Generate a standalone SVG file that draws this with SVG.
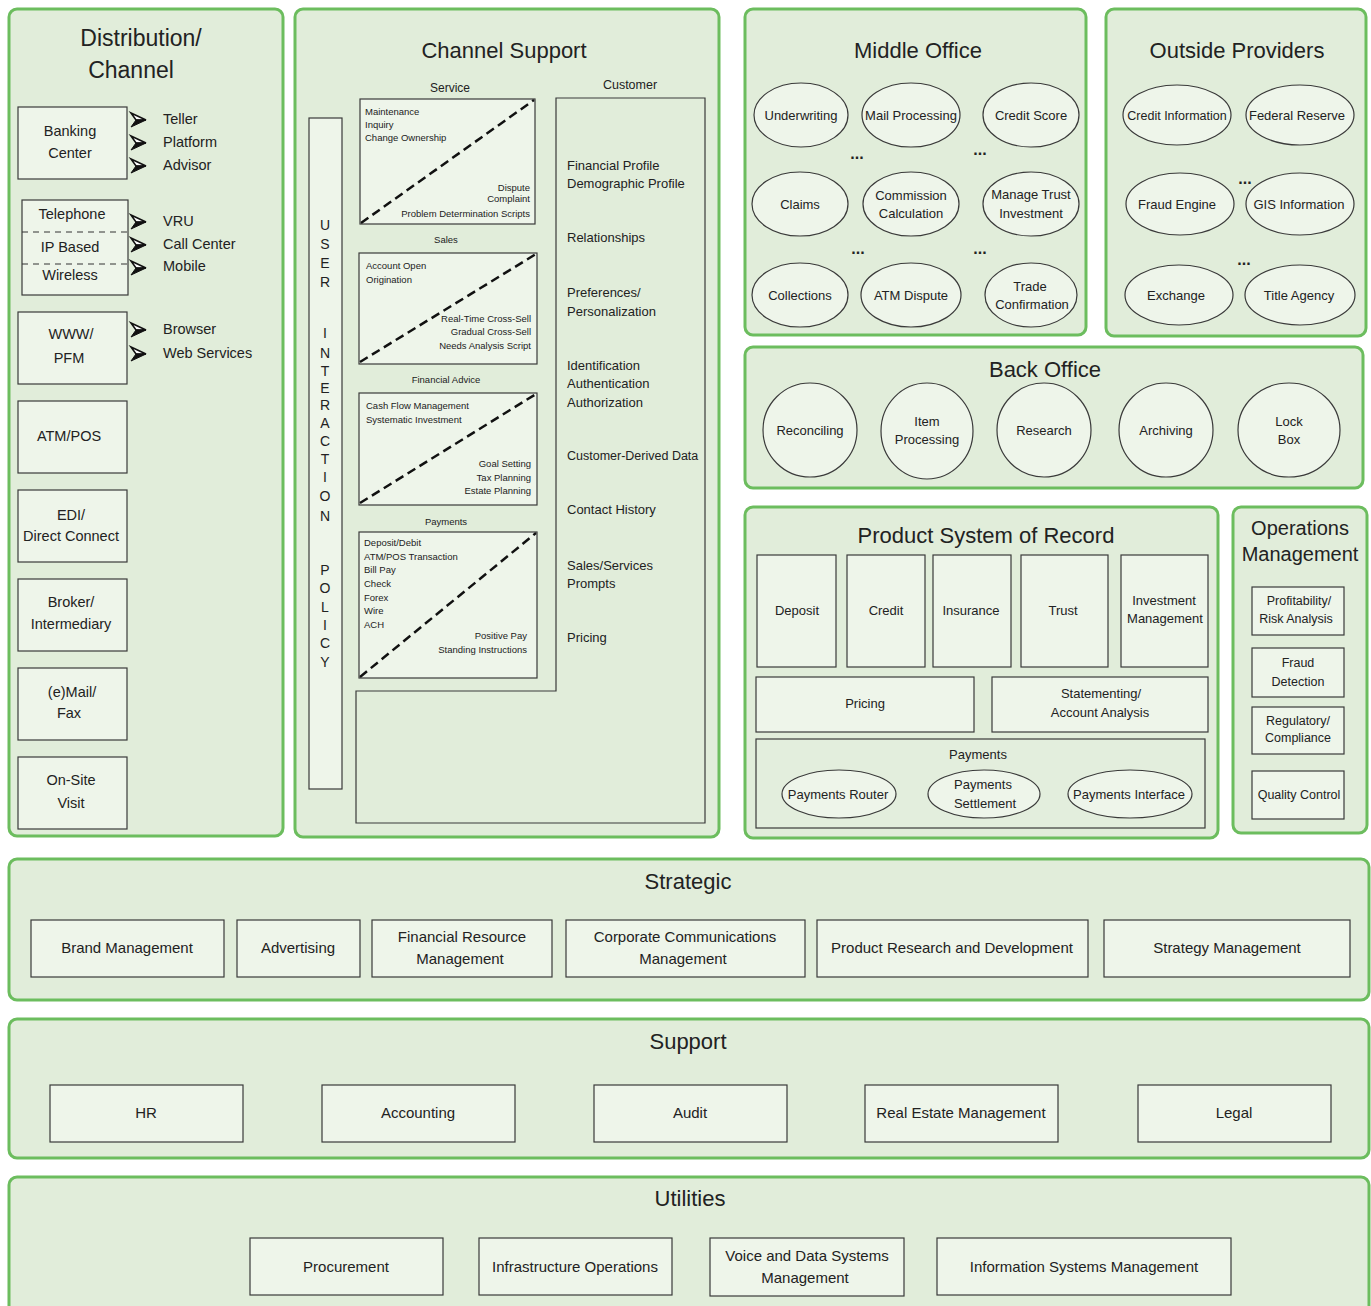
<svg xmlns="http://www.w3.org/2000/svg" width="1371" height="1306" viewBox="0 0 1371 1306">
<defs>
<style>
.panel{fill:#e1edda;stroke:#6cbd5e;stroke-width:3}
.box{fill:#eef5ea;stroke:#3a3a3a;stroke-width:1.2}
.open{fill:none;stroke:#3a3a3a;stroke-width:1.2}
.t{font-family:"Liberation Sans",Arial,sans-serif;fill:#222;text-anchor:middle}
.l{text-anchor:start}
.r{text-anchor:end}
.ttl{font-size:22px}
.f15{font-size:15px}
.f145{font-size:14.5px}
.f13{font-size:13px}
.f125{font-size:12.5px}
.f95{font-size:9.5px}
.v{font-size:14px}
.dots{font-size:16px;font-weight:bold}
.dash{stroke:#111;stroke-width:2.5;stroke-dasharray:9 5;fill:none}
.sep{stroke:#333;stroke-width:1;stroke-dasharray:6 5}
</style>
<symbol id="arr" viewBox="-1 -8 17 16" width="17" height="16" overflow="visible">
<polygon points="0,-7 15,0 5,0" fill="#fff" stroke="#111" stroke-width="1.6" stroke-linejoin="miter"/>
<polygon points="0,7 15,0 5,0" fill="#111" stroke="#111" stroke-width="1"/>
</symbol>
</defs>
<rect width="1371" height="1306" fill="#fff"/>

<g id="distribution">
<rect class="panel" x="9" y="9" width="274" height="827" rx="8"/>
<text class="t" font-size="23" x="141" y="46">Distribution/</text>
<text class="t" font-size="23" x="131" y="78">Channel</text>
<g id="banking-center">
<rect class="box" x="18" y="107" width="109" height="72"/>
<text class="t f145" x="70" y="136">Banking</text>
<text class="t f145" x="70" y="158">Center</text>
</g>
<use href="#arr" x="130" y="112"/><use href="#arr" x="130" y="135"/><use href="#arr" x="130" y="158"/>
<text class="t l f145" x="163" y="124">Teller</text>
<text class="t l f145" x="163" y="147">Platform</text>
<text class="t l f145" x="163" y="170">Advisor</text>
<g id="telephone">
<rect class="box" x="22" y="200" width="106" height="95"/>
<line class="sep" x1="22" y1="232" x2="128" y2="232"/>
<line class="sep" x1="22" y1="264" x2="128" y2="264"/>
<text class="t f145" x="72" y="219">Telephone</text>
<text class="t f145" x="70" y="252">IP Based</text>
<text class="t f145" x="70" y="280">Wireless</text>
</g>
<use href="#arr" x="130" y="214"/><use href="#arr" x="130" y="237"/><use href="#arr" x="130" y="260"/>
<text class="t l f145" x="163" y="226">VRU</text>
<text class="t l f145" x="163" y="249">Call Center</text>
<text class="t l f145" x="163" y="271">Mobile</text>
<g id="www">
<rect class="box" x="18" y="312" width="109" height="72"/>
<text class="t f145" x="71" y="339">WWW/</text>
<text class="t f145" x="69" y="363">PFM</text>
</g>
<use href="#arr" x="130" y="322"/><use href="#arr" x="130" y="346"/>
<text class="t l f145" x="163" y="334">Browser</text>
<text class="t l f145" x="163" y="358">Web Services</text>
<g id="atm-pos">
<rect class="box" x="18" y="401" width="109" height="72"/>
<text class="t f145" x="69" y="441">ATM/POS</text>
</g>
<g id="edi">
<rect class="box" x="18" y="490" width="109" height="72"/>
<text class="t f145" x="71" y="520">EDI/</text>
<text class="t f145" x="71" y="541">Direct Connect</text>
</g>
<g id="broker">
<rect class="box" x="18" y="579" width="109" height="72"/>
<text class="t f145" x="71" y="607">Broker/</text>
<text class="t f145" x="71" y="629">Intermediary</text>
</g>
<g id="mail-fax">
<rect class="box" x="18" y="668" width="109" height="72"/>
<text class="t f145" x="72" y="697">(e)Mail/</text>
<text class="t f145" x="69" y="718">Fax</text>
</g>
<g id="onsite">
<rect class="box" x="18" y="757" width="109" height="72"/>
<text class="t f145" x="71" y="785">On-Site</text>
<text class="t f145" x="71" y="808">Visit</text>
</g>
</g>

<g id="channel-support">
<rect class="panel" x="295" y="9" width="424" height="828" rx="8"/>
<text class="t ttl" x="504" y="58">Channel Support</text>
<g id="user-interaction-policy">
<rect class="box" x="309" y="118" width="33" height="671"/>
<g class="t v">
<text x="325" y="230">U</text><text x="325" y="249">S</text><text x="325" y="268">E</text><text x="325" y="287">R</text>
<text x="325" y="338">I</text><text x="325" y="358">N</text><text x="325" y="376">T</text><text x="325" y="393">E</text><text x="325" y="410">R</text><text x="325" y="428">A</text><text x="325" y="446">C</text><text x="325" y="464">T</text><text x="325" y="482">I</text><text x="325" y="501">O</text><text x="325" y="521">N</text>
<text x="325" y="575">P</text><text x="325" y="593">O</text><text x="325" y="612">L</text><text x="325" y="630">I</text><text x="325" y="648">C</text><text x="325" y="667">Y</text>
</g>
</g>
<g id="service">
<text class="t" font-size="12" x="450" y="92">Service</text>
<rect class="box" x="360" y="99" width="175" height="125"/>
<line class="dash" x1="361" y1="223" x2="534" y2="100"/>
<text class="t l f95" x="365" y="115">Maintenance</text>
<text class="t l f95" x="365" y="128">Inquiry</text>
<text class="t l f95" x="365" y="141">Change Ownership</text>
<text class="t r f95" x="530" y="191">Dispute</text>
<text class="t r f95" x="530" y="202">Complaint</text>
<text class="t r f95" x="530" y="217">Problem Determination Scripts</text>
</g>
<g id="sales">
<text class="t f95" x="446" y="243">Sales</text>
<rect class="box" x="359" y="253" width="178" height="111"/>
<line class="dash" x1="360" y1="362" x2="536" y2="254"/>
<text class="t l f95" x="366" y="269">Account Open</text>
<text class="t l f95" x="366" y="283">Origination</text>
<text class="t r f95" x="531" y="322">Real-Time Cross-Sell</text>
<text class="t r f95" x="531" y="335">Gradual Cross-Sell</text>
<text class="t r f95" x="531" y="349">Needs Analysis Script</text>
</g>
<g id="financial-advice">
<text class="t f95" x="446" y="383">Financial Advice</text>
<rect class="box" x="359" y="393" width="178" height="112"/>
<line class="dash" x1="360" y1="503" x2="536" y2="394"/>
<text class="t l f95" x="366" y="409">Cash Flow Management</text>
<text class="t l f95" x="366" y="423">Systematic Investment</text>
<text class="t r f95" x="531" y="467">Goal Setting</text>
<text class="t r f95" x="531" y="481">Tax Planning</text>
<text class="t r f95" x="531" y="494">Estate Planning</text>
</g>
<g id="payments-cs">
<text class="t f95" x="446" y="525">Payments</text>
<rect class="box" x="359" y="532" width="178" height="146"/>
<line class="dash" x1="360" y1="677" x2="536" y2="533"/>
<text class="t l f95" x="364" y="546">Deposit/Debit</text>
<text class="t l f95" x="364" y="560">ATM/POS Transaction</text>
<text class="t l f95" x="364" y="573">Bill Pay</text>
<text class="t l f95" x="364" y="587">Check</text>
<text class="t l f95" x="364" y="601">Forex</text>
<text class="t l f95" x="364" y="614">Wire</text>
<text class="t l f95" x="364" y="628">ACH</text>
<text class="t r f95" x="527" y="639">Positive Pay</text>
<text class="t r f95" x="527" y="653">Standing Instructions</text>
</g>
<g id="customer">
<text class="t f125" x="630" y="89">Customer</text>
<path class="open" d="M556,98 H705 V823 H356 V691 H556 Z"/>
<text class="t l f13" x="567" y="170">Financial Profile</text>
<text class="t l f13" x="567" y="188">Demographic Profile</text>
<text class="t l f13" x="567" y="242">Relationships</text>
<text class="t l f13" x="567" y="297">Preferences/</text>
<text class="t l f13" x="567" y="316">Personalization</text>
<text class="t l f13" x="567" y="370">Identification</text>
<text class="t l f13" x="567" y="388">Authentication</text>
<text class="t l f13" x="567" y="407">Authorization</text>
<text class="t l f125" x="567" y="460">Customer-Derived Data</text>
<text class="t l f13" x="567" y="514">Contact History</text>
<text class="t l f13" x="567" y="570">Sales/Services</text>
<text class="t l f13" x="567" y="588">Prompts</text>
<text class="t l f13" x="567" y="642">Pricing</text>
</g>
</g>

<g id="middle-office">
<rect class="panel" x="745" y="9" width="341" height="326" rx="8"/>
<text class="t ttl" x="918" y="58">Middle Office</text>
<g id="underwriting"><ellipse class="box" cx="801" cy="115" rx="47" ry="32"/><text class="t f13" x="801" y="120">Underwriting</text></g>
<g id="mail-processing"><ellipse class="box" cx="911" cy="115" rx="49" ry="32"/><text class="t f13" x="911" y="120">Mail Processing</text></g>
<g id="credit-score"><ellipse class="box" cx="1031" cy="115" rx="48" ry="32"/><text class="t f13" x="1031" y="120">Credit Score</text></g>
<g id="claims"><ellipse class="box" cx="800" cy="204" rx="48" ry="32"/><text class="t f13" x="800" y="209">Claims</text></g>
<g id="commission"><ellipse class="box" cx="911" cy="204" rx="48" ry="32"/><text class="t f13" x="911" y="200">Commission</text><text class="t f13" x="911" y="218">Calculation</text></g>
<g id="manage-trust"><ellipse class="box" cx="1031" cy="204" rx="48" ry="32"/><text class="t f13" x="1031" y="199">Manage Trust</text><text class="t f13" x="1031" y="218">Investment</text></g>
<g id="collections"><ellipse class="box" cx="800" cy="295" rx="48" ry="32"/><text class="t f13" x="800" y="300">Collections</text></g>
<g id="atm-dispute"><ellipse class="box" cx="911" cy="295" rx="50" ry="32"/><text class="t f13" x="911" y="300">ATM Dispute</text></g>
<g id="trade-confirmation"><ellipse class="box" cx="1031" cy="295" rx="46" ry="32"/><text class="t f13" x="1030" y="291">Trade</text><text class="t f13" x="1032" y="309">Confirmation</text></g>
<text class="t dots" x="857" y="159">...</text>
<text class="t dots" x="980" y="155">...</text>
<text class="t dots" x="858" y="254">...</text>
<text class="t dots" x="980" y="254">...</text>
</g>

<g id="outside-providers">
<rect class="panel" x="1106" y="9" width="260" height="327" rx="8"/>
<text class="t ttl" x="1237" y="58">Outside Providers</text>
<g id="credit-information"><ellipse class="box" cx="1177" cy="115" rx="54" ry="30"/><text class="t" font-size="12.5" x="1177" y="120">Credit Information</text></g>
<g id="federal-reserve"><ellipse class="box" cx="1300" cy="115" rx="54" ry="30"/><text class="t f13" x="1297" y="120">Federal Reserve</text></g>
<g id="fraud-engine"><ellipse class="box" cx="1180" cy="204" rx="54" ry="31"/><text class="t f13" x="1177" y="209">Fraud Engine</text></g>
<g id="gis-information"><ellipse class="box" cx="1300" cy="204" rx="54" ry="31"/><text class="t f13" x="1299" y="209">GIS Information</text></g>
<g id="exchange"><ellipse class="box" cx="1179" cy="295" rx="54" ry="30"/><text class="t f13" x="1176" y="300">Exchange</text></g>
<g id="title-agency"><ellipse class="box" cx="1300" cy="295" rx="55" ry="30"/><text class="t f13" x="1299" y="300">Title Agency</text></g>
<text class="t dots" x="1245" y="184">...</text>
<text class="t dots" x="1244" y="265">...</text>
</g>

<g id="back-office">
<rect class="panel" x="745" y="347" width="618" height="141" rx="8"/>
<text class="t ttl" x="1045" y="377">Back Office</text>
<g id="reconciling"><ellipse class="box" cx="810" cy="430" rx="47" ry="47"/><text class="t f13" x="810" y="435">Reconciling</text></g>
<g id="item-processing"><ellipse class="box" cx="927" cy="431" rx="46" ry="48"/><text class="t f13" x="927" y="426">Item</text><text class="t f13" x="927" y="444">Processing</text></g>
<g id="research"><ellipse class="box" cx="1044" cy="430" rx="47" ry="47"/><text class="t f13" x="1044" y="435">Research</text></g>
<g id="archiving"><ellipse class="box" cx="1166" cy="430" rx="47" ry="47"/><text class="t f13" x="1166" y="435">Archiving</text></g>
<g id="lock-box"><ellipse class="box" cx="1289" cy="430" rx="51" ry="47"/><text class="t f13" x="1289" y="426">Lock</text><text class="t f13" x="1289" y="444">Box</text></g>
</g>

<g id="product-system-of-record">
<rect class="panel" x="745" y="507" width="473" height="331" rx="8"/>
<text class="t ttl" x="986" y="543">Product System of Record</text>
<g id="deposit"><rect class="box" x="757" y="555" width="79" height="112"/><text class="t f13" x="797" y="615">Deposit</text></g>
<g id="credit"><rect class="box" x="847" y="555" width="78" height="112"/><text class="t f13" x="886" y="615">Credit</text></g>
<g id="insurance"><rect class="box" x="933" y="555" width="78" height="112"/><text class="t f13" x="971" y="615">Insurance</text></g>
<g id="trust"><rect class="box" x="1021" y="555" width="87" height="112"/><text class="t f13" x="1063" y="615">Trust</text></g>
<g id="investment-management"><rect class="box" x="1121" y="555" width="87" height="112"/><text class="t f13" x="1164" y="605">Investment</text><text class="t f13" x="1165" y="623">Management</text></g>
<g id="pricing"><rect class="box" x="756" y="677" width="218" height="55"/><text class="t f13" x="865" y="708">Pricing</text></g>
<g id="statementing"><rect class="box" x="992" y="677" width="216" height="55"/><text class="t f13" x="1101" y="698">Statementing/</text><text class="t f13" x="1100" y="717">Account Analysis</text></g>
<g id="payments">
<rect fill="#e3eedd" stroke="#3a3a3a" stroke-width="1.2" x="756" y="739" width="449" height="89"/>
<text class="t f13" x="978" y="759">Payments</text>
<g id="payments-router"><ellipse class="box" cx="839" cy="794" rx="57" ry="24"/><text class="t f13" x="838" y="799">Payments Router</text></g>
<g id="payments-settlement"><ellipse class="box" cx="984" cy="794" rx="56" ry="24"/><text class="t f13" x="983" y="789">Payments</text><text class="t f13" x="985" y="808">Settlement</text></g>
<g id="payments-interface"><ellipse class="box" cx="1130" cy="794" rx="62" ry="24"/><text class="t f13" x="1129" y="799">Payments Interface</text></g>
</g>
</g>

<g id="operations-management">
<rect class="panel" x="1233" y="507" width="134" height="326" rx="8"/>
<text class="t" font-size="20" x="1300" y="535">Operations</text>
<text class="t" font-size="20" x="1300" y="561">Management</text>
<g id="profitability"><rect class="box" x="1252" y="587" width="92" height="48"/><text class="t f125" x="1299" y="605">Profitability/</text><text class="t f125" x="1296" y="623">Risk Analysis</text></g>
<g id="fraud-detection"><rect class="box" x="1252" y="648" width="92" height="49"/><text class="t f125" x="1298" y="667">Fraud</text><text class="t f125" x="1298" y="686">Detection</text></g>
<g id="regulatory"><rect class="box" x="1252" y="707" width="92" height="47"/><text class="t f125" x="1298" y="725">Regulatory/</text><text class="t f125" x="1298" y="742">Compliance</text></g>
<g id="quality-control"><rect class="box" x="1252" y="771" width="92" height="48"/><text class="t f125" x="1299" y="799">Quality Control</text></g>
</g>

<g id="strategic">
<rect class="panel" x="9" y="859" width="1360" height="141" rx="8"/>
<text class="t ttl" x="688" y="889">Strategic</text>
<g id="brand-management"><rect class="box" x="31" y="920" width="193" height="57"/><text class="t f15" x="127" y="953">Brand Management</text></g>
<g id="advertising"><rect class="box" x="237" y="920" width="123" height="57"/><text class="t f15" x="298" y="953">Advertising</text></g>
<g id="financial-resource"><rect class="box" x="372" y="920" width="180" height="57"/><text class="t f15" x="462" y="942">Financial Resource</text><text class="t f15" x="460" y="964">Management</text></g>
<g id="corporate-communications"><rect class="box" x="566" y="920" width="239" height="57"/><text class="t f15" x="685" y="942">Corporate Communications</text><text class="t f15" x="683" y="964">Management</text></g>
<g id="product-research"><rect class="box" x="817" y="920" width="271" height="57"/><text class="t f15" x="952" y="953">Product Research and Development</text></g>
<g id="strategy-management"><rect class="box" x="1104" y="920" width="246" height="57"/><text class="t f15" x="1227" y="953">Strategy Management</text></g>
</g>

<g id="support">
<rect class="panel" x="9" y="1019" width="1360" height="139" rx="8"/>
<text class="t ttl" x="688" y="1049">Support</text>
<g id="hr"><rect class="box" x="50" y="1085" width="193" height="57"/><text class="t f15" x="146" y="1118">HR</text></g>
<g id="accounting"><rect class="box" x="322" y="1085" width="193" height="57"/><text class="t f15" x="418" y="1118">Accounting</text></g>
<g id="audit"><rect class="box" x="594" y="1085" width="193" height="57"/><text class="t f15" x="690" y="1118">Audit</text></g>
<g id="real-estate"><rect class="box" x="865" y="1085" width="193" height="57"/><text class="t f15" x="961" y="1118">Real Estate Management</text></g>
<g id="legal"><rect class="box" x="1138" y="1085" width="193" height="57"/><text class="t f15" x="1234" y="1118">Legal</text></g>
</g>

<g id="utilities">
<rect class="panel" x="9" y="1177" width="1360" height="150" rx="8"/>
<text class="t ttl" x="690" y="1206">Utilities</text>
<g id="procurement"><rect class="box" x="250" y="1238" width="193" height="57"/><text class="t f15" x="346" y="1272">Procurement</text></g>
<g id="infrastructure"><rect class="box" x="479" y="1238" width="193" height="57"/><text class="t f15" x="575" y="1272">Infrastructure Operations</text></g>
<g id="voice-data"><rect class="box" x="710" y="1238" width="194" height="58"/><text class="t f15" x="807" y="1261">Voice and Data Systems</text><text class="t f15" x="805" y="1283">Management</text></g>
<g id="information-systems"><rect class="box" x="937" y="1238" width="294" height="57"/><text class="t f15" x="1084" y="1272">Information Systems Management</text></g>
</g>

<g id="connectors"></g>
</svg>
